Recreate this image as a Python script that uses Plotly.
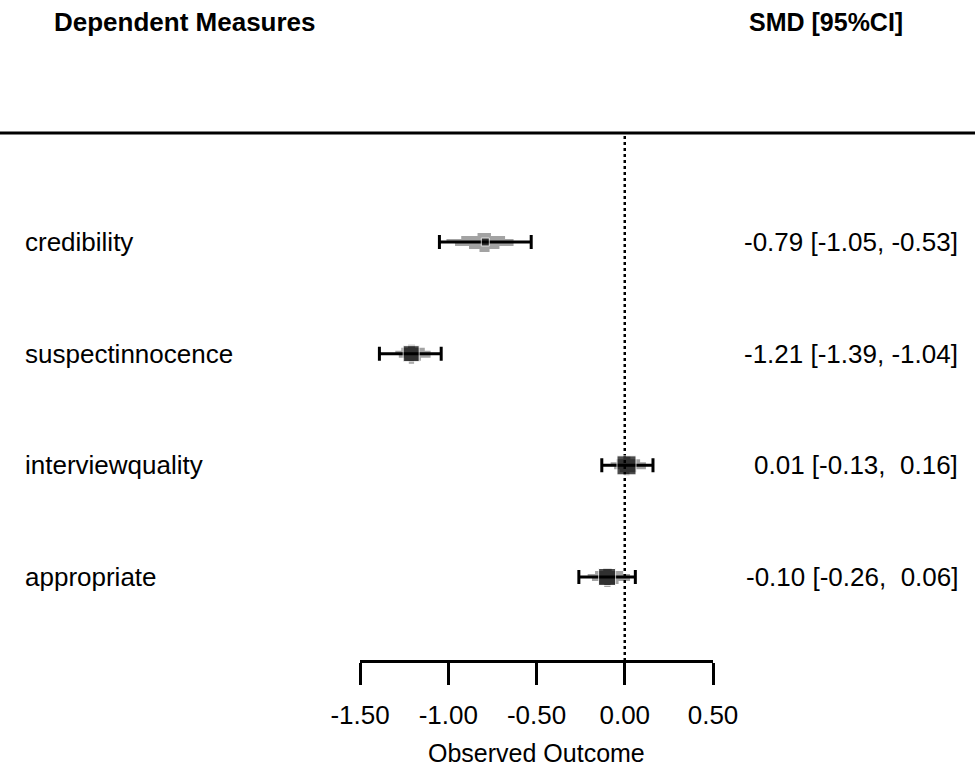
import plotly.graph_objects as go

# ---------------- data ----------------
measures = ["credibility", "suspectinnocence", "interviewquality", "appropriate"]
est = [-0.79, -1.21, 0.01, -0.10]
ci_lo = [-1.05, -1.39, -0.13, -0.26]
ci_hi = [-0.53, -1.04, 0.16, 0.06]
dist_lo = [-1.01, -1.30, -0.08, -0.21]
dist_hi = [-0.63, -1.10, 0.12, 0.03]
tick_vals = [-1.5, -1.0, -0.5, 0.0, 0.5]
tick_text = ["-1.50", "-1.00", "-0.50", "0.00", "0.50"]

# ---------------- style / layout constants ----------------
W, H = 975, 772
FONT = "Arial, Liberation Sans, sans-serif"
marker_sizes = [8, 16, 19, 17]
row_y = [4, 3, 2, 1]
ROW_PX = 111.67
ROW1_PX = 577.0

def y_of_px(p):
    return 1 + (ROW1_PX - p) / ROW_PX

y_top, y_bot = y_of_px(0), y_of_px(H)
line_y = y_of_px(133)
axis_y = y_of_px(661)
PX = 1 / ROW_PX

# tiers of the grey distribution shape: (top px, bottom px, left frac, right frac)
tiers = [(-9, -6, 0.2, 0.2), (-6, -3, 0.62, 0.7), (-3, 1, 1.0, 1.0),
         (1, 4, 0.78, 1.0), (4, 7, 0.42, 0.5), (7, 10, 0.15, 0.15)]

fig = go.Figure()

# grey distribution shapes
for i in range(len(measures)):
    xs, ys = [], []
    c, yc = est[i], row_y[i]
    for (t, b, lf, rf) in tiers:
        xl = c - lf * (c - dist_lo[i])
        xr = c + rf * (dist_hi[i] - c)
        yt = yc - t * PX
        yb = yc - b * PX
        xs += [xl, xr, xr, xl, xl, None]
        ys += [yt, yt, yb, yb, yt, None]
    fig.add_trace(go.Scatter(x=xs, y=ys, mode="lines", fill="toself",
                             fillcolor="#a3a3a3", line=dict(width=0, color="#a3a3a3"),
                             hoverinfo="skip", showlegend=False))

# dotted reference line at 0
fig.add_trace(go.Scatter(x=[0, 0], y=[axis_y, line_y], mode="lines",
                         line=dict(color="black", width=2.5, dash="dot"),
                         hoverinfo="skip", showlegend=False))

# CIs and estimates
fig.add_trace(go.Scatter(
    x=est, y=row_y, mode="markers",
    marker=dict(symbol="square", size=marker_sizes, color="black"),
    error_x=dict(type="data", symmetric=False,
                 array=[h - e for h, e in zip(ci_hi, est)],
                 arrayminus=[e - l for e, l in zip(est, ci_lo)],
                 color="black", thickness=3, width=7),
    cliponaxis=False, showlegend=False))

# top horizontal line
fig.add_shape(type="line", xref="paper", yref="y", x0=0, x1=1, y0=line_y, y1=line_y,
              line=dict(color="black", width=3))

ann = []
# headers
ann.append(dict(text="<b>Dependent Measures</b>", xref="paper", yref="paper",
                x=52 / W, y=1 - 22 / H, xanchor="left", yanchor="middle",
                showarrow=False, font=dict(family=FONT, size=26, color="black")))
ann.append(dict(text="<b>SMD [95%CI]</b>", xref="paper", yref="paper",
                x=826 / W, y=1 - 22 / H, xanchor="center", yanchor="middle",
                showarrow=False, font=dict(family=FONT, size=25, color="black")))
for i, m in enumerate(measures):
    ann.append(dict(text=m, xref="paper", yref="y", x=23 / W, y=row_y[i],
                    xanchor="left", yanchor="middle", showarrow=False,
                    font=dict(family=FONT, size=26, color="black")))
    hi_txt = f"{ci_hi[i]:.2f}"
    if ci_hi[i] >= 0:
        hi_txt = "\u00a0" + hi_txt
    lab = f"{est[i]:.2f} [{ci_lo[i]:.2f}, {hi_txt}]"
    ann.append(dict(text=lab, xref="paper", yref="y", x=960 / W, y=row_y[i],
                    xanchor="right", yanchor="middle", showarrow=False,
                    font=dict(family=FONT, size=26, color="black")))
ann.append(dict(text="Observed Outcome", xref="paper", yref="paper",
                x=536.5 / W, y=1 - 753 / H, xanchor="center", yanchor="middle",
                showarrow=False, font=dict(family=FONT, size=25, color="black")))

fig.update_layout(
    template="none",
    width=W, height=H, margin=dict(l=0, r=0, t=0, b=0, pad=0, autoexpand=False),
    paper_bgcolor="white", plot_bgcolor="white",
    annotations=ann, showlegend=False,
    xaxis=dict(domain=[360 / W, 713 / W], range=[-1.5, 0.5], anchor="free",
               position=1 - 661 / H, showgrid=False, zeroline=False, automargin=False,
               showline=True, linecolor="black", linewidth=2.5,
               ticks="outside", ticklen=22, tickwidth=2.5, tickcolor="black",
               tickvals=tick_vals, ticktext=tick_text, ticklabelstandoff=8,
               tickfont=dict(family=FONT, size=26, color="black")),
    yaxis=dict(domain=[0, 1], range=[y_bot, y_top], visible=False, automargin=False,
               showgrid=False, zeroline=False),
)

fig.write_html(
    "out.html",
    config={"displayModeBar": False},
    post_script="document.body.style.margin='0';document.body.style.overflow='hidden';",
)
